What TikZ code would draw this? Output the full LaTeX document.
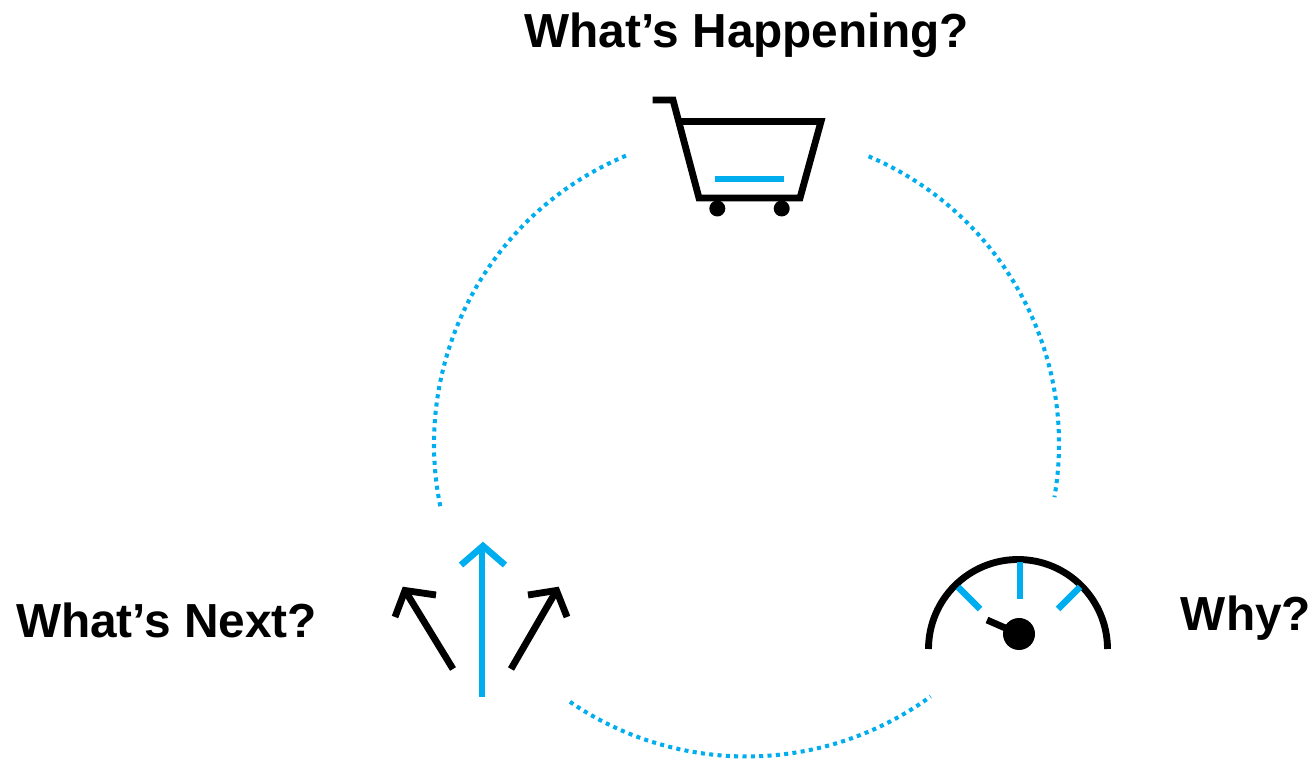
\documentclass[tikz,border=0pt]{standalone}
\usepackage{fontspec}
\setmainfont{Liberation Sans}
\usepackage{tikz}
\definecolor{skyblue}{HTML}{00AEEF}
\tikzset{
    title/.style={font=\fontsize{27.2}{30}\selectfont\bfseries, inner sep=0pt, anchor=base},
    ring/.style={skyblue, line width=2.3pt, dash pattern=on 2.3pt off 2.45pt},
    icon/.style={black, line width=3.9pt, miter limit=10},
    accent/.style={skyblue, line width=3.7pt, miter limit=10}
}

\begin{document}
\begin{tikzpicture}[x=0.02cm, y=-0.02cm]

\useasboundingbox (0,0) rectangle (1312,759);

\node[title] (happening) at (746.5,48) {What’s Happening?};
\node[title] (next) at (166.5,638) {What’s Next?};
\node[title] (why) at (1246,631) {Why?};

% dotted ring
\coordinate (ringc) at (746.5,444);
\draw[ring] (ringc) ++(-112.7:312.5) arc[start angle=-112.7, end angle=-191.6, radius=312.5];
\draw[ring] (ringc) ++(-67:312.5) arc[start angle=-67, end angle=9.8, radius=312.5];
\draw[ring] (ringc) ++(124.4:312.5) arc[start angle=124.4, end angle=53.9, radius=312.5];

% cart
\draw[icon] (652.5,100) -- (673,100) -- (699,198) -- (800,198) -- (821,121.5) -- (678,121.5);
\draw[accent] (715,179) -- (784,179);
\fill (717.3,208.5) circle[radius=8];
\fill (781.7,208.5) circle[radius=8];

% gauge
\draw[icon] (928.5,649) arc[start angle=180, end angle=360, radius=89.5];
\draw[accent] (1020,562) -- (1020,599);
\draw[accent] (958,587) -- (980,609);
\draw[accent] (1080,587) -- (1058,609);
\draw[icon] (987,620) -- (1019,634);
\fill (1019,634) circle[radius=16];

% arrows
\draw[accent] (482,697) -- (482,546);
\draw[accent] (461,565) -- (483,546) -- (505,565);
\draw[icon] (453,669) -- (405,590.5);
\draw[icon] (395,617) -- (405,590.5) -- (436,595);
\draw[icon] (511,669) -- (556.5,590.5);
\draw[icon] (528,595) -- (556.5,590.5) -- (567,617);

\end{tikzpicture}
\end{document}
